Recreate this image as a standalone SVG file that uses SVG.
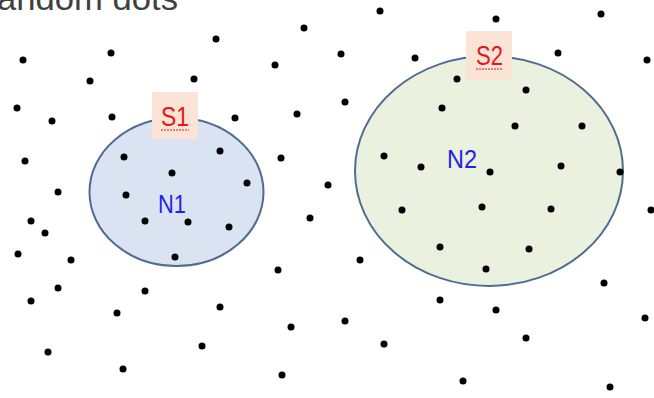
<svg xmlns="http://www.w3.org/2000/svg" width="654" height="398" viewBox="0 0 654 398">
<style>
.dot{fill:#000}
.set{stroke:#4f6d94;stroke-width:2}
.lbl{fill:#fbe4d5}
.s{font-family:"Liberation Sans",Arial,sans-serif;font-size:28px;fill:#e8141c}
.n{font-family:"Liberation Sans",Arial,sans-serif;font-size:25px;fill:#2323e6}
.sq{stroke:#e8141c;stroke-width:1;stroke-dasharray:2 1;fill:none}
</style>
<rect width="654" height="398" fill="#fff"/>
<text x="-3" y="10" font-family="Liberation Sans,Arial,sans-serif" font-size="34" fill="#404040" textLength="181" lengthAdjust="spacingAndGlyphs">andom dots</text>
<g id="N1">
<ellipse class="set" cx="176.5" cy="192" rx="87" ry="74" fill="#dae3f1"/>
<text class="n" x="158" y="213" textLength="28" lengthAdjust="spacingAndGlyphs">N1</text>
</g>
<g id="N2">
<ellipse class="set" cx="489" cy="171" rx="134" ry="115" fill="#ebf1df"/>
<text class="n" x="447" y="168" textLength="30" lengthAdjust="spacingAndGlyphs">N2</text>
</g>
<g id="S1">
<rect class="lbl" x="152" y="92" width="46" height="47"/>
<text class="s" x="161" y="126" textLength="28" lengthAdjust="spacingAndGlyphs">S1</text>
<path class="sq" d="M161 130 H189"/>
</g>
<g id="S2">
<rect class="lbl" x="466" y="31" width="46" height="49"/>
<text class="s" x="476" y="65" textLength="27" lengthAdjust="spacingAndGlyphs">S2</text>
<path class="sq" d="M476 69 H503"/>
</g>
<g id="dots">
<circle class="dot" cx="380" cy="11" r="3.5"/>
<circle class="dot" cx="496" cy="19" r="3.5"/>
<circle class="dot" cx="601" cy="14" r="3.5"/>
<circle class="dot" cx="304" cy="28" r="3.5"/>
<circle class="dot" cx="216" cy="39" r="3.5"/>
<circle class="dot" cx="111" cy="53" r="3.5"/>
<circle class="dot" cx="23" cy="60" r="3.5"/>
<circle class="dot" cx="341" cy="54" r="3.5"/>
<circle class="dot" cx="415" cy="58" r="3.5"/>
<circle class="dot" cx="558" cy="53" r="3.5"/>
<circle class="dot" cx="647" cy="60" r="3.5"/>
<circle class="dot" cx="90" cy="81" r="3.5"/>
<circle class="dot" cx="194" cy="79" r="3.5"/>
<circle class="dot" cx="275" cy="65" r="3.5"/>
<circle class="dot" cx="457" cy="79" r="3.5"/>
<circle class="dot" cx="526" cy="90" r="3.5"/>
<circle class="dot" cx="17" cy="108" r="3.5"/>
<circle class="dot" cx="52" cy="121" r="3.5"/>
<circle class="dot" cx="112" cy="117" r="3.5"/>
<circle class="dot" cx="235" cy="118" r="3.5"/>
<circle class="dot" cx="297" cy="114" r="3.5"/>
<circle class="dot" cx="345" cy="102" r="3.5"/>
<circle class="dot" cx="442" cy="108" r="3.5"/>
<circle class="dot" cx="515" cy="126" r="3.5"/>
<circle class="dot" cx="582" cy="126" r="3.5"/>
<circle class="dot" cx="25" cy="161" r="3.5"/>
<circle class="dot" cx="124" cy="157" r="3.5"/>
<circle class="dot" cx="220" cy="151" r="3.5"/>
<circle class="dot" cx="281" cy="158" r="3.5"/>
<circle class="dot" cx="384" cy="156" r="3.5"/>
<circle class="dot" cx="421" cy="167" r="3.5"/>
<circle class="dot" cx="490" cy="172" r="3.5"/>
<circle class="dot" cx="561" cy="166" r="3.5"/>
<circle class="dot" cx="620" cy="172" r="3.5"/>
<circle class="dot" cx="172" cy="173" r="3.5"/>
<circle class="dot" cx="247" cy="183" r="3.5"/>
<circle class="dot" cx="58" cy="192" r="3.5"/>
<circle class="dot" cx="126" cy="195" r="3.5"/>
<circle class="dot" cx="328" cy="185" r="3.5"/>
<circle class="dot" cx="31" cy="221" r="3.5"/>
<circle class="dot" cx="45" cy="233" r="3.5"/>
<circle class="dot" cx="18" cy="254" r="3.5"/>
<circle class="dot" cx="71" cy="260" r="3.5"/>
<circle class="dot" cx="145" cy="221" r="3.5"/>
<circle class="dot" cx="188" cy="222" r="3.5"/>
<circle class="dot" cx="229" cy="227" r="3.5"/>
<circle class="dot" cx="175" cy="257" r="3.5"/>
<circle class="dot" cx="310" cy="218" r="3.5"/>
<circle class="dot" cx="402" cy="210" r="3.5"/>
<circle class="dot" cx="482" cy="207" r="3.5"/>
<circle class="dot" cx="551" cy="209" r="3.5"/>
<circle class="dot" cx="651" cy="210" r="3.5"/>
<circle class="dot" cx="440" cy="247" r="3.5"/>
<circle class="dot" cx="529" cy="249" r="3.5"/>
<circle class="dot" cx="486" cy="269" r="3.5"/>
<circle class="dot" cx="278" cy="270" r="3.5"/>
<circle class="dot" cx="360" cy="260" r="3.5"/>
<circle class="dot" cx="58" cy="288" r="3.5"/>
<circle class="dot" cx="145" cy="291" r="3.5"/>
<circle class="dot" cx="31" cy="301" r="3.5"/>
<circle class="dot" cx="117" cy="313" r="3.5"/>
<circle class="dot" cx="220" cy="307" r="3.5"/>
<circle class="dot" cx="604" cy="283" r="3.5"/>
<circle class="dot" cx="440" cy="300" r="3.5"/>
<circle class="dot" cx="496" cy="310" r="3.5"/>
<circle class="dot" cx="645" cy="318" r="3.5"/>
<circle class="dot" cx="291" cy="327" r="3.5"/>
<circle class="dot" cx="345" cy="321" r="3.5"/>
<circle class="dot" cx="384" cy="344" r="3.5"/>
<circle class="dot" cx="526" cy="338" r="3.5"/>
<circle class="dot" cx="48" cy="352" r="3.5"/>
<circle class="dot" cx="202" cy="346" r="3.5"/>
<circle class="dot" cx="123" cy="369" r="3.5"/>
<circle class="dot" cx="282" cy="375" r="3.5"/>
<circle class="dot" cx="463" cy="381" r="3.5"/>
<circle class="dot" cx="610" cy="387" r="3.5"/>
</g>
</svg>
